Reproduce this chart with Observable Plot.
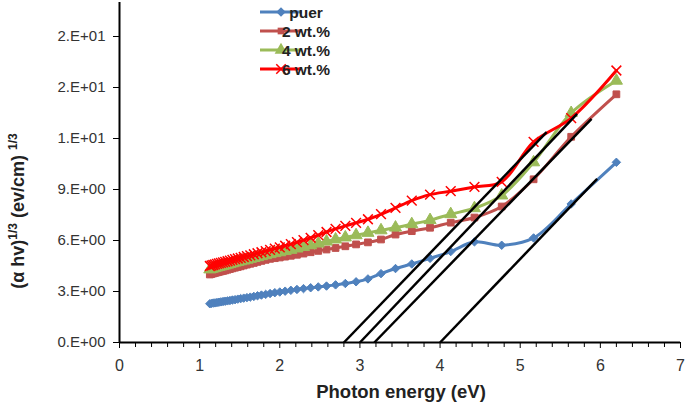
<!DOCTYPE html>
<html><head><meta charset="utf-8">
<script src="https://cdn.jsdelivr.net/npm/d3@7"></script>
<script src="https://cdn.jsdelivr.net/npm/@observablehq/plot@0.6"></script>
<style>
body{margin:0;background:#fff;}
#chart{width:685px;height:404px;}
svg text{font-family:"Liberation Sans",Arial,sans-serif;}
g[aria-label="y-axis tick label"]{font-size:15px;fill:#333;}
g[aria-label="x-axis tick label"]{font-size:16px;fill:#333;}
</style></head><body><div id="chart"></div>
<script>
// Photon energy (eV) of each measured point
const energy = [1.127,1.148,1.170,1.192,1.216,1.240,1.265,1.292,1.319,1.348,1.378,1.409,1.442,1.476,1.512,1.550,1.590,1.632,1.676,1.722,1.771,1.824,1.879,1.938,2.000,2.067,2.138,2.214,2.296,2.385,2.480,2.583,2.696,2.818,2.952,3.100,3.263,3.444,3.647,3.875,4.133,4.429,4.769,5.167,5.636,6.200];
const puer = [2.28,2.30,2.32,2.33,2.35,2.37,2.39,2.41,2.43,2.45,2.47,2.50,2.52,2.55,2.58,2.61,2.64,2.67,2.71,2.75,2.79,2.83,2.88,2.93,2.97,3.02,3.07,3.12,3.17,3.22,3.27,3.32,3.39,3.47,3.57,3.74,4.05,4.35,4.62,4.95,5.35,5.92,5.72,6.15,8.15,10.6];
const wt2 = [4.00,4.03,4.06,4.09,4.12,4.15,4.18,4.21,4.24,4.28,4.32,4.36,4.40,4.44,4.48,4.53,4.58,4.63,4.68,4.74,4.80,4.86,4.92,4.96,5.00,5.05,5.10,5.16,5.23,5.31,5.39,5.47,5.56,5.66,5.77,5.89,6.06,6.35,6.55,6.75,7.05,7.35,8.00,9.60,12.1,14.6];
const wt4 = [4.30,4.33,4.36,4.39,4.42,4.45,4.48,4.51,4.54,4.58,4.62,4.66,4.70,4.74,4.78,4.82,4.87,4.92,4.97,5.02,5.08,5.14,5.20,5.26,5.31,5.38,5.45,5.53,5.62,5.72,5.82,5.94,6.06,6.18,6.31,6.45,6.60,6.76,6.96,7.20,7.55,7.90,8.65,10.6,13.5,15.4];
const wt6 = [4.50,4.53,4.56,4.59,4.62,4.65,4.68,4.71,4.74,4.78,4.82,4.86,4.90,4.94,4.98,5.03,5.08,5.13,5.19,5.25,5.31,5.38,5.45,5.52,5.60,5.69,5.79,5.90,6.02,6.16,6.32,6.50,6.68,6.86,7.04,7.25,7.55,7.92,8.35,8.70,8.90,9.15,9.45,11.8,13.2,16.0];

const seriesNames = ["puer","2 wt.%","4 wt.%","6 wt.%"];
const seriesValues = [puer, wt2, wt4, wt6];
const seriesColors = ["#4F81BD","#C0504D","#9BBB59","#FF0000"];
const seriesSymbols = ["diamond2","square","triangle","times"];

// Tauc extrapolation lines (start on the energy axis, end point)
const tangentX1 = [2.80, 3.00, 3.18, 4.00];
const tangentX2 = [5.33, 5.71, 5.89, 5.96];
const tangentY2 = [12.37, 13.45, 13.16, 9.63];

const xTicks = [0,1,2,3,4,5,6,7];
const xTickLabels = ["0","1","2","3","4","5","6","7"];
const xMinorTicks = [0.2,0.4,0.6,0.8,1.2,1.4,1.6,1.8,2.2,2.4,2.6,2.8,3.2,3.4,3.6,3.8,4.2,4.4,4.6,4.8,5.2,5.4,5.6,5.8,6.2,6.4,6.6,6.8];
const yTicks = [0,3,6,9,12,15,18];
const yTickLabels = ["0.E+00","3.E+00","6.E+00","9.E+00","1.E+01","2.E+01","2.E+01"];
const xTitle = "Photon energy (eV)";

const series = seriesNames.map((name, i) => ({
  name, color: seriesColors[i], symbol: seriesSymbols[i],
  data: energy.map((e, j) => ({x: e, y: seriesValues[i][j]}))
}));
const tangents = tangentX1.map((x1, i) => ({x1, y1: 0, x2: tangentX2[i], y2: tangentY2[i]}));

const marks = [
  Plot.axisY({ticks: yTicks, tickFormat: d => yTickLabels[yTicks.indexOf(d)], tickSize: 6, tickPadding: 8, label: null}),
  Plot.axisX({ticks: xTicks, tickFormat: d => xTickLabels[xTicks.indexOf(d)], tickSize: 6, tickPadding: 11, label: null}),
  Plot.axisX({ticks: xMinorTicks, tickFormat: () => "", tickSize: 5, label: null}),
  Plot.ruleX([0], {stroke: "black", strokeWidth: 2}),
  Plot.ruleY([0], {stroke: "black", strokeWidth: 2})
];
for (const s of series) {
  marks.push(Plot.line(s.data, {x: "x", y: "y", stroke: s.color, strokeWidth: 3, curve: "catmull-rom"}));
  if (s.symbol === "times") {
    marks.push(Plot.dot(s.data, {x: "x", y: "y", symbol: s.symbol, r: 4.5, stroke: s.color, strokeWidth: 1.5}));
  } else {
    marks.push(Plot.dot(s.data, {x: "x", y: "y", symbol: s.symbol, r: s.symbol === "triangle" ? 4.5 : 3.8, fill: s.color, stroke: s.color, strokeWidth: 1}));
  }
}
marks.push(Plot.link(tangents, {x1: "x1", y1: "y1", x2: "x2", y2: "y2", stroke: "black", strokeWidth: 2.5}));

const plot = Plot.plot({
  width: 685, height: 404,
  marginLeft: 119, marginRight: 5, marginTop: 2, marginBottom: 62,
  x: {domain: [0, 7]},
  y: {domain: [0, 20]},
  style: {fontFamily: "Liberation Sans, Arial, sans-serif", background: "white", overflow: "visible"},
  marks
});
document.getElementById("chart").appendChild(plot);

const svg = d3.select(plot);
// x title
svg.append("text").attr("x", 401).attr("y", 398).attr("text-anchor", "middle")
  .attr("font-weight", "bold").attr("font-size", 18.5).attr("fill", "#222").text(xTitle);
// y title with superscripts
const yt = svg.append("text").attr("transform", "translate(24,211) rotate(-90)")
  .attr("text-anchor", "middle").attr("font-weight", "bold").attr("font-size", 18).attr("fill", "#222");
yt.append("tspan").text("(α hv)");
yt.append("tspan").attr("font-size", 12).attr("dy", -7).text("1/3");
yt.append("tspan").attr("dy", 7).text(" (ev/cm) ");
yt.append("tspan").attr("font-size", 12).attr("dy", -7).text("1/3");

// legend
const legendRows = [12, 31, 50, 69];
const symMap = {diamond2: d3.symbolSquare, square: d3.symbolSquare, triangle: d3.symbolTriangle, times: d3.symbolTimes};
series.forEach((s, i) => {
  const g = svg.append("g").attr("transform", `translate(260,${legendRows[i]})`);
  g.append("line").attr("x1", 0).attr("x2", 42).attr("y1", 0).attr("y2", 0).attr("stroke", s.color).attr("stroke-width", 3);
  const p = g.append("path").attr("transform", s.symbol === "diamond2" ? "translate(21,0) rotate(45)" : "translate(21,0)");
  if (s.symbol === "times") {
    p.attr("d", d3.symbol(d3.symbolTimes, 60)()).attr("stroke", s.color).attr("stroke-width", 1.5).attr("fill", "none");
  } else {
    p.attr("d", d3.symbol(symMap[s.symbol], s.symbol === "triangle" ? 70 : 45)()).attr("fill", s.color);
  }
  g.append("text").attr("x", 46).attr("y", 5.5).attr("font-weight", "bold").attr("font-size", 15.5).attr("fill", "#222").text(s.name);
});
</script></body></html>
